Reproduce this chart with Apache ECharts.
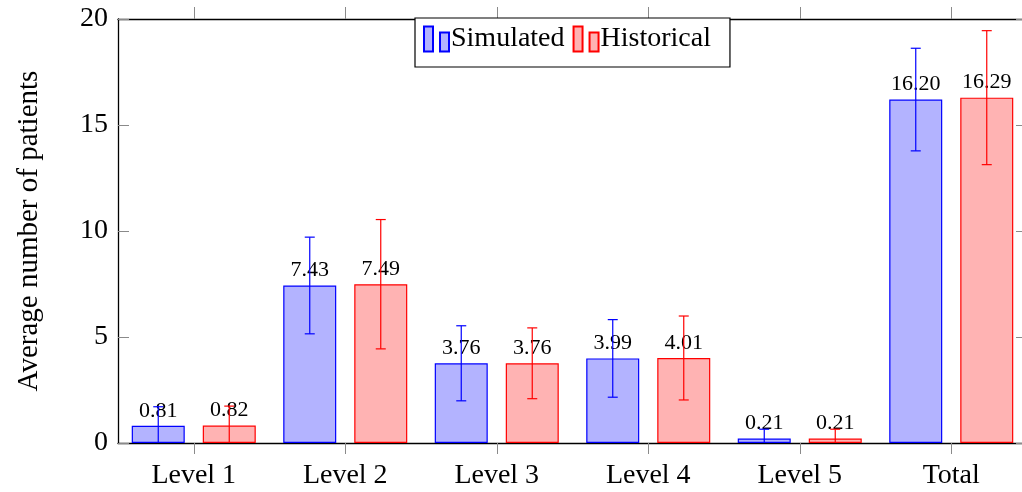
<!DOCTYPE html>
<html>
<head>
<meta charset="utf-8">
<script src="https://cdn.jsdelivr.net/npm/echarts@6/dist/echarts.min.js"></script>
<style>
html,body{margin:0;padding:0;background:#fff;}
#chart{width:1022px;height:492px;}
</style>
</head>
<body>
<div id="chart"></div>
<script>
const categories = ['Level 1', 'Level 2', 'Level 3', 'Level 4', 'Level 5', 'Total'];
const simulated = [0.81, 7.43, 3.76, 3.99, 0.21, 16.20];
const historical = [0.82, 7.49, 3.76, 4.01, 0.21, 16.29];
const simulatedErr = [0.90, 2.28, 1.77, 1.83, 0.44, 2.42];
const historicalErr = [0.92, 3.05, 1.67, 1.98, 0.44, 3.16];
const yMin = 0, yMax = 20, yStep = 5;

const FONT = '"Liberation Serif", "DejaVu Serif", serif';
const BIG = 28;
const BAR_W = 53;
const BAR_GAP = 18;
const BLUE = '#0000ff', BLUE_FILL = '#b3b3ff';
const RED = '#ff0000', RED_FILL = '#ffb3b3';
const TICK = '#8a8a8a';

function errSeries(name, values, errs, sign, color) {
  return {
    type: 'custom',
    name: name + ' error',
    xAxisIndex: 0, yAxisIndex: 0,
    clip: true,
    z: 4,
    silent: true,
    renderItem: function (params, api) {
      const i = api.value(0), v = api.value(1), e = api.value(2);
      const off = sign * (BAR_W / 2 + BAR_GAP / 2);
      const top = api.coord([i, v + e]);
      const bot = api.coord([i, v - e]);
      const x = top[0] + off;
      const cap = 5;
      const style = { stroke: color, lineWidth: 1.2 };
      return {
        type: 'group',
        children: [
          { type: 'line', shape: { x1: x, y1: top[1], x2: x, y2: bot[1] }, style: style },
          { type: 'line', shape: { x1: x - cap, y1: top[1], x2: x + cap, y2: top[1] }, style: style },
          { type: 'line', shape: { x1: x - cap, y1: bot[1], x2: x + cap, y2: bot[1] }, style: style }
        ]
      };
    },
    data: values.map((v, k) => [k, v, errs[k]])
  };
}

const labelStyle = {
  show: true, position: 'top', distance: 4,
  fontFamily: FONT, fontSize: 22, color: '#000',
  formatter: p => Number(p.value).toFixed(2)
};

const chart = echarts.init(document.getElementById('chart'), null, { renderer: 'canvas' });
chart.setOption({
  animation: false,
  backgroundColor: '#fff',
  textStyle: { fontFamily: FONT },
  grid: { left: 118, top: 19, right: -5, bottom: 49, containLabel: false, outerBoundsMode: 'none' },
  legend: {
    left: 415, top: 18,
    orient: 'horizontal',
    itemWidth: 25, itemHeight: 25, itemGap: 8,
    padding: [7, 19, 14, 8],
    borderColor: '#000', borderWidth: 1.2, backgroundColor: '#fff',
    textStyle: { fontFamily: FONT, fontSize: BIG, color: '#000', padding: [0, 0, 0, -3] },
    icon: 'path://M0,0H9V25H0Z M16,6H25V25H16Z',
    data: ['Simulated', 'Historical']
  },
  xAxis: [
    {
      type: 'category', data: categories, position: 'bottom', boundaryGap: true,
      axisLine: { show: true, onZero: false, lineStyle: { color: '#000', width: 1.3 } },
      axisTick: { show: true, alignWithLabel: true, inside: false, length: 11, lineStyle: { color: TICK, width: 1 } },
      axisLabel: { fontFamily: FONT, fontSize: BIG, color: '#000', margin: 19 },
      splitLine: { show: false }
    },
    {
      type: 'category', data: categories, position: 'top', boundaryGap: true,
      axisLine: { show: true, onZero: false, lineStyle: { color: '#000', width: 1.3 } },
      axisTick: { show: true, alignWithLabel: true, inside: false, length: 12, lineStyle: { color: TICK, width: 1 } },
      axisLabel: { show: false },
      splitLine: { show: false }
    }
  ],
  yAxis: [
    {
      type: 'value', min: yMin, max: yMax, interval: yStep, position: 'left',
      name: 'Average number of patients', nameLocation: 'middle', nameGap: 74,
      nameTextStyle: { fontFamily: FONT, fontSize: BIG + 1, color: '#000' },
      axisLine: { show: true, onZero: false, lineStyle: { color: '#000', width: 1.3 } },
      axisTick: { show: true, inside: true, length: 11, lineStyle: { color: TICK, width: 1 } },
      axisLabel: { fontFamily: FONT, fontSize: BIG, color: '#000', margin: 10 },
      splitLine: { show: false }
    },
    {
      type: 'value', min: yMin, max: yMax, interval: yStep, position: 'right',
      axisLine: { show: true, onZero: false, lineStyle: { color: '#000', width: 1.3 } },
      axisTick: { show: true, inside: true, length: 11, lineStyle: { color: TICK, width: 1 } },
      axisLabel: { show: false },
      splitLine: { show: false }
    }
  ],
  series: [
    {
      type: 'bar', name: 'Simulated', data: simulated,
      xAxisIndex: 0, yAxisIndex: 0,
      barWidth: BAR_W, barGap: (BAR_GAP / BAR_W * 100).toFixed(1) + '%',
      itemStyle: { color: BLUE_FILL, borderColor: BLUE, borderWidth: 1.2 },
      label: labelStyle,
      z: 2
    },
    {
      type: 'bar', name: 'Historical', data: historical,
      xAxisIndex: 0, yAxisIndex: 0,
      barWidth: BAR_W, barGap: (BAR_GAP / BAR_W * 100).toFixed(1) + '%',
      itemStyle: { color: RED_FILL, borderColor: RED, borderWidth: 1.2 },
      label: labelStyle,
      z: 2
    },
    errSeries('Simulated', simulated, simulatedErr, -1, BLUE),
    errSeries('Historical', historical, historicalErr, 1, RED)
  ]
});
</script>
</body>
</html>
